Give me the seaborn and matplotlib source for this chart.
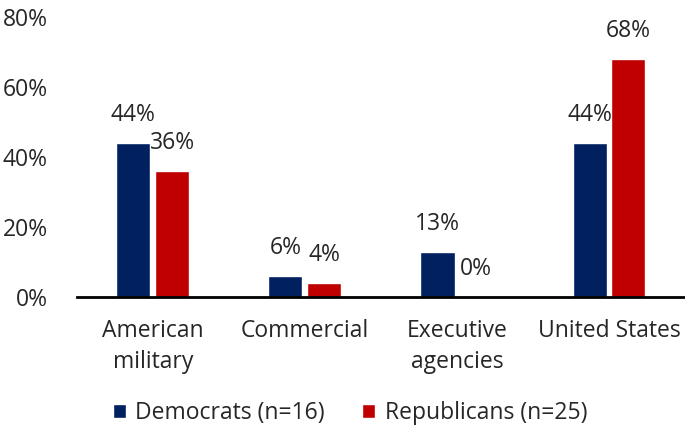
import numpy as np
import pandas as pd
import matplotlib
matplotlib.use("Agg")
import matplotlib.pyplot as plt
import seaborn as sns

# data
categories = ["American\nmilitary", "Commercial", "Executive\nagencies", "United States"]
democrats = [44, 6, 13, 44]
republicans = [36, 4, 0, 68]
series = ["Democrats (n=16)", "Republicans (n=25)"]

palette = {series[0]: "#002060", series[1]: "#C00000"}

df = pd.DataFrame({
    "category": categories * 2,
    "party": [series[0]] * 4 + [series[1]] * 4,
    "share": democrats + republicans,
})

sns.set_style("white")
plt.rcParams["font.family"] = ["Open Sans", "DejaVu Sans"]
fs = 16.5

fig = plt.figure(figsize=(6.85, 4.37), dpi=100)
ax = fig.add_axes([0.112, 0.320, 0.888, 0.641])

sns.barplot(data=df, x="category", y="share", hue="party", palette=palette,
            width=0.51, gap=0.12, saturation=1, ax=ax, legend=True)

# value labels above each bar
for container in ax.containers:
    for bar in container:
        h = bar.get_height()
        ax.annotate(f"{h:.0f}%", (bar.get_x() + bar.get_width() / 2, h),
                    xytext=(0, 20), textcoords="offset points",
                    ha="center", va="center", fontsize=fs)

ax.set_ylim(0, 80)
ax.set_xlim(-0.5, 3.5)
ax.set_yticks(np.arange(0, 81, 20))
ax.set_yticklabels([f"{v}%" for v in range(0, 81, 20)], fontsize=fs)
ax.tick_params(axis="x", labelsize=fs, length=0, pad=16)
ax.tick_params(axis="y", length=0, pad=21)
for lbl in ax.get_xticklabels():
    lbl.set_linespacing(1.35)
ax.set_xlabel("")
ax.set_ylabel("")

for side in ["left", "right", "top"]:
    ax.spines[side].set_visible(False)
ax.spines["bottom"].set_color("black")
ax.spines["bottom"].set_linewidth(2)

ax.legend(loc="center", bbox_to_anchor=(0.449, -0.414), ncol=2, frameon=False,
          fontsize=fs, handlelength=0.6, handleheight=0.6, handletextpad=0.4,
          columnspacing=1.6)

fig.savefig("out.png", dpi=100)
